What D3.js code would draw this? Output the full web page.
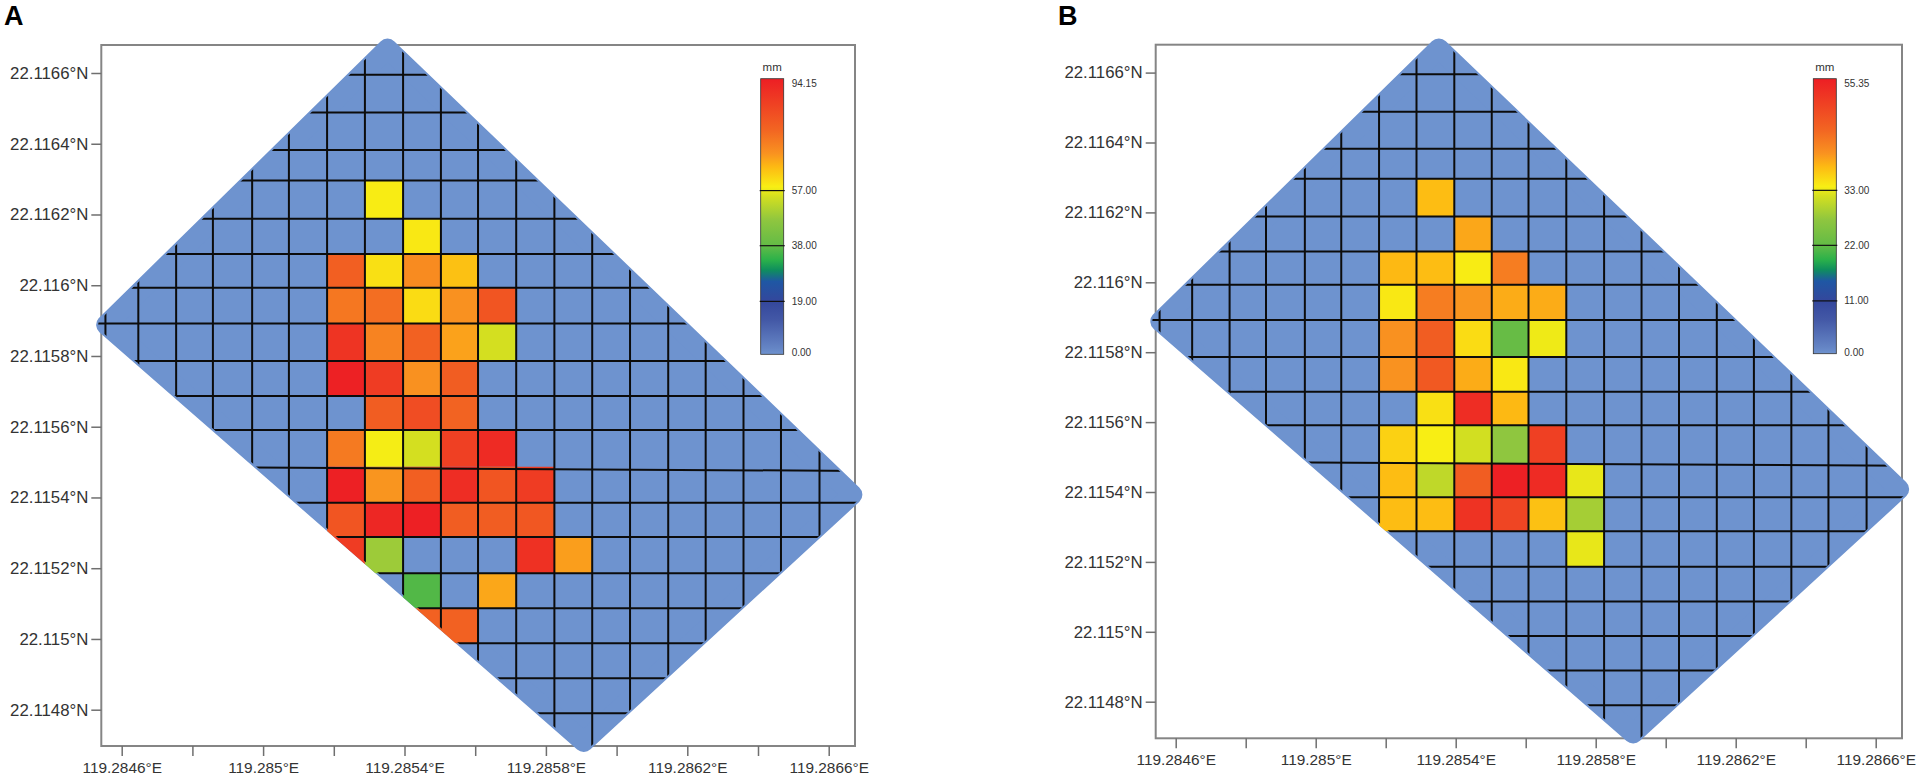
<!DOCTYPE html>
<html>
<head>
<meta charset="utf-8">
<script src="https://cdn.jsdelivr.net/npm/d3@7"></script>
<style>
  html, body { margin: 0; padding: 0; background: #fff; }
  svg { display: block; }
  text { font-family: "Liberation Sans", Arial, sans-serif; fill: #333; }
  .frame { fill: none; stroke: #858585; stroke-width: 2; }
  .axis .domain { display: none; }
  .axis line { stroke: #6f6f6f; stroke-width: 1.5; }
  .axis text { fill: #333; }
  .grid line { stroke: #0c0c0c; stroke-width: 2; }
</style>
</head>
<body>
<div id="chart"></div>
<script>
// Axis ticks
const lonTicks = [119.2846, 119.2848, 119.285, 119.2852, 119.2854, 119.2856, 119.2858, 119.286, 119.2862, 119.2864, 119.2866];
const latTicks = [22.1166, 22.1164, 22.1162, 22.116, 22.1158, 22.1156, 22.1154, 22.1152, 22.115, 22.1148];

// Field outline: top, right, bottom, left corner
const fieldLon = [119.285352, 119.286667, 119.285907, 119.284556];
const fieldLat = [22.116669, 22.115408, 22.114709, 22.115888];

// Fishnet lines
const gridLon = [119.284554, 119.284647, 119.284754, 119.284858, 119.284969, 119.285073, 119.285181,
  119.285288, 119.285396, 119.285503, 119.285608, 119.285716, 119.285824, 119.285931, 119.286038,
  119.286146, 119.286252, 119.286359, 119.286465, 119.286574];
const gridLat = [22.116595, 22.116488, 22.116382, 22.116296, 22.116188, 22.116088, 22.115993,
  22.115892, 22.115786, 22.115687, 22.115591, 22.115487, 22.115385, 22.115288, 22.115186,
  22.115087, 22.114988, 22.114889, 22.11479];
// One line runs slightly off the horizontal
const slantedRow = 11;
const slantedLatRight = 22.115475;

// Rainfall in mm, cells outside these blocks are dry
const firstRow = 3;
const firstCol = 6;
const rainA = [
  [0, 58.5, 0, 0, 0, 0, 0],
  [0, 0, 59, 0, 0, 0, 0],
  [78.5, 60, 70.5, 64, 0, 0, 0],
  [74, 75.5, 60.5, 69.5, 81, 0, 0],
  [89, 72, 78, 67.5, 55, 0, 0],
  [93.5, 87, 69.5, 79, 0, 0, 0],
  [0, 79, 83, 77.5, 0, 0, 0],
  [73.5, 58, 55, 86, 91, 0, 0],
  [94, 69, 78.5, 90.5, 81, 87, 0],
  [81, 92, 94, 79, 79, 80.5, 0],
  [87, 48.5, 0, 0, 0, 89.5, 68],
  [0, 0, 36.5, 0, 67, 0, 0],
  [0, 0, 78, 78, 0, 0, 0],
];
const rainB = [
  [0, 37.5, 0, 0, 0, 0],
  [0, 0, 39, 0, 0, 0],
  [37.8, 37.5, 33.9, 42.6, 0, 0],
  [34.2, 42.6, 40.2, 38.7, 38.7, 0],
  [40.5, 46.2, 35.1, 22.5, 33.3, 0],
  [40.4, 46.8, 38.7, 34.2, 0, 0],
  [0, 34.8, 53.2, 37.8, 0, 0],
  [36, 33.8, 31.7, 27.1, 50.4, 0],
  [37.5, 30.4, 46.2, 55.2, 53.5, 32.9],
  [37.5, 37.5, 52.3, 49.8, 37.2, 28.6],
  [0, 0, 0, 0, 0, 32.9],
];

// Legend breaks
const breaksA = [0, 19, 38, 57, 94.15];
const breaksB = [0, 11, 22, 33, 55.35];
const breakPos = [0, 0.192, 0.394, 0.594, 1];

// Colour ramp along the legend bar
const rampPos = [0, 0.022, 0.125, 0.192, 0.264, 0.306, 0.342, 0.394, 0.487, 0.572, 0.608, 0.681, 0.729, 0.814, 0.911, 0.995, 1];
const rampColor = ['#6e93cf', '#6585c5', '#4358a6', '#34479c', '#1f57a4', '#0f8f5d', '#2bb14a', '#63bb46',
  '#8fc63f', '#d3df20', '#f8ee14', '#fdb913', '#f99220', '#f26522', '#ef4023', '#ed2024', '#ed2024'];

const ramp = d3.scaleLinear().domain(rampPos).range(rampColor);
const fieldColor = ramp(0);

const svg = d3.select('#chart').append('svg')
    .attr('width', 1921)
    .attr('height', 780);

const panels = [
  {
    id: 'a', letter: 'A', letterX: 4, rain: rainA, breaks: breaksA, cellsFollowSlant: false,
    frame: {left: 101.3, right: 855, top: 45, bottom: 746},
    xRange: [121.7, 828.7], yRange: [73, 709.7],
    barLeft: 760.7, barTop: 78.7, barBottom: 354.3
  },
  {
    id: 'b', letter: 'B', letterX: 1058, rain: rainB, breaks: breaksB, cellsFollowSlant: true,
    frame: {left: 1155.7, right: 1902, top: 44.7, bottom: 738.3},
    xRange: [1175.7, 1875.7], yRange: [72.6, 701.7],
    barLeft: 1813.3, barTop: 78.7, barBottom: 353.7
  }
];

const defs = svg.append('defs');

const gradient = defs.append('linearGradient')
    .attr('id', 'ramp')
    .attr('x1', 0).attr('x2', 0)
    .attr('y1', 1).attr('y2', 0);
gradient.selectAll('stop')
  .data(rampPos)
  .enter().append('stop')
    .attr('offset', d => d)
    .attr('stop-color', (d, i) => rampColor[i]);

panels.forEach(drawPanel);

function drawPanel(p) {
  const x = d3.scaleLinear().domain([lonTicks[0], lonTicks[lonTicks.length - 1]]).range(p.xRange);
  const y = d3.scaleLinear().domain([latTicks[0], latTicks[latTicks.length - 1]]).range(p.yRange);
  const valuePos = d3.scaleLinear().domain(p.breaks).range(breakPos);

  const lonExtent = d3.extent(fieldLon);
  const latExtent = d3.extent(fieldLat);
  const lineLeft = x(lonExtent[0]) - 12;
  const lineRight = x(lonExtent[1]) + 12;

  // Height of the slanted line at a given pixel x
  const slantY = d3.scaleLinear()
      .domain([lineLeft, lineRight])
      .range([y(gridLat[slantedRow]), y(slantedLatRight)]);

  // Cell edge: panel B's cells sit right under the slanted line, panel A's do not
  const edgeY = (row, px) => (p.cellsFollowSlant && row === slantedRow) ? slantY(px) : y(gridLat[row]);

  const g = svg.append('g').attr('class', `panel panel-${p.id}`);

  g.append('text')
      .attr('x', p.letterX)
      .attr('y', 24.5)
      .attr('font-size', 27)
      .attr('font-weight', 700)
      .style('fill', '#000')
      .text(p.letter);

  g.append('rect')
      .attr('class', 'frame')
      .attr('x', p.frame.left)
      .attr('y', p.frame.top)
      .attr('width', p.frame.right - p.frame.left)
      .attr('height', p.frame.bottom - p.frame.top);

  // Axes
  const axisY = g.append('g')
      .attr('class', 'axis axis-y')
      .attr('transform', `translate(${p.frame.left},0)`)
      .call(d3.axisLeft(y)
          .tickValues(latTicks)
          .tickSize(10)
          .tickPadding(3)
          .tickFormat(d => d3.format('.4~f')(d) + '°N'));
  axisY.selectAll('text').attr('font-size', 16.8);

  const axisX = g.append('g')
      .attr('class', 'axis axis-x')
      .attr('transform', `translate(0,${p.frame.bottom})`)
      .call(d3.axisBottom(x)
          .tickValues(lonTicks)
          .tickSize(10)
          .tickPadding(6)
          .tickFormat((d, i) => i % 2 ? '' : d3.format('.4~f')(d) + '°E'));
  axisX.selectAll('text').attr('font-size', 15.4);

  // Field outline, the wide round stroke gives the soft corners
  const outline = fieldLon.map((d, i) => [x(d), y(fieldLat[i])]);
  const outlinePath = 'M' + outline.join('L') + 'Z';

  g.append('path')
      .attr('d', outlinePath)
      .attr('fill', fieldColor)
      .attr('stroke', fieldColor)
      .attr('stroke-width', 20)
      .attr('stroke-linejoin', 'round');

  [['cells', 20], ['lines', 16]].forEach(([name, strokeWidth]) => {
    defs.append('mask')
        .attr('id', `mask-${name}-${p.id}`)
        .attr('maskUnits', 'userSpaceOnUse')
        .attr('x', 0).attr('y', 0)
        .attr('width', 1921).attr('height', 780)
      .append('path')
        .attr('d', outlinePath)
        .attr('fill', '#fff')
        .attr('stroke', '#fff')
        .attr('stroke-width', strokeWidth)
        .attr('stroke-linejoin', 'round');
  });

  // Rainfall cells
  const cells = [];
  p.rain.forEach((row, r) => row.forEach((value, c) => {
    if (value > 0) cells.push({row: r + firstRow, col: c + firstCol, value});
  }));

  g.append('g')
      .attr('class', 'cells')
      .attr('mask', `url(#mask-cells-${p.id})`)
    .selectAll('path')
    .data(cells)
    .enter().append('path')
      .attr('d', d => {
        const x0 = x(gridLon[d.col]);
        const x1 = x(gridLon[d.col + 1]);
        return `M${x0},${edgeY(d.row, x0)}L${x1},${edgeY(d.row, x1)}` +
            `L${x1},${edgeY(d.row + 1, x1)}L${x0},${edgeY(d.row + 1, x0)}Z`;
      })
      .attr('fill', d => ramp(valuePos(d.value)));

  // Fishnet
  const grid = g.append('g')
      .attr('class', 'grid')
      .attr('mask', `url(#mask-lines-${p.id})`);

  grid.selectAll('line.v')
    .data(gridLon)
    .enter().append('line')
      .attr('class', 'v')
      .attr('x1', d => x(d))
      .attr('x2', d => x(d))
      .attr('y1', y(latExtent[1]) - 12)
      .attr('y2', y(latExtent[0]) + 12);

  grid.selectAll('line.h')
    .data(gridLat)
    .enter().append('line')
      .attr('class', 'h')
      .attr('x1', lineLeft)
      .attr('x2', lineRight)
      .attr('y1', d => y(d))
      .attr('y2', (d, i) => y(i === slantedRow ? slantedLatRight : d));

  // Legend
  const barWidth = 23;
  const legendY = d3.scaleLinear().domain([0, 1]).range([p.barBottom, p.barTop]);
  const legend = g.append('g').attr('class', 'legend');

  legend.append('text')
      .attr('x', p.barLeft + barWidth / 2)
      .attr('y', p.barTop - 8)
      .attr('text-anchor', 'middle')
      .attr('font-size', 11.5)
      .text('mm');

  legend.append('rect')
      .attr('x', p.barLeft)
      .attr('y', p.barTop)
      .attr('width', barWidth)
      .attr('height', p.barBottom - p.barTop)
      .attr('fill', 'url(#ramp)')
      .attr('stroke', '#333')
      .attr('stroke-width', 0.8);

  legend.selectAll('line')
    .data(p.breaks.slice(1, 4))
    .enter().append('line')
      .attr('x1', p.barLeft - 1)
      .attr('x2', p.barLeft + barWidth + 1)
      .attr('y1', d => legendY(valuePos(d)))
      .attr('y2', d => legendY(valuePos(d)))
      .attr('stroke', '#111')
      .attr('stroke-width', 1.2);

  legend.selectAll('text.break')
    .data(p.breaks)
    .enter().append('text')
      .attr('class', 'break')
      .attr('x', p.barLeft + barWidth + 8)
      .attr('y', (d, i) => legendY(breakPos[i]) + (i === 4 ? 8 : i === 0 ? 2 : 3.5))
      .attr('font-size', 10)
      .text(d => d3.format('.2f')(d));
}
</script>
</body>
</html>
